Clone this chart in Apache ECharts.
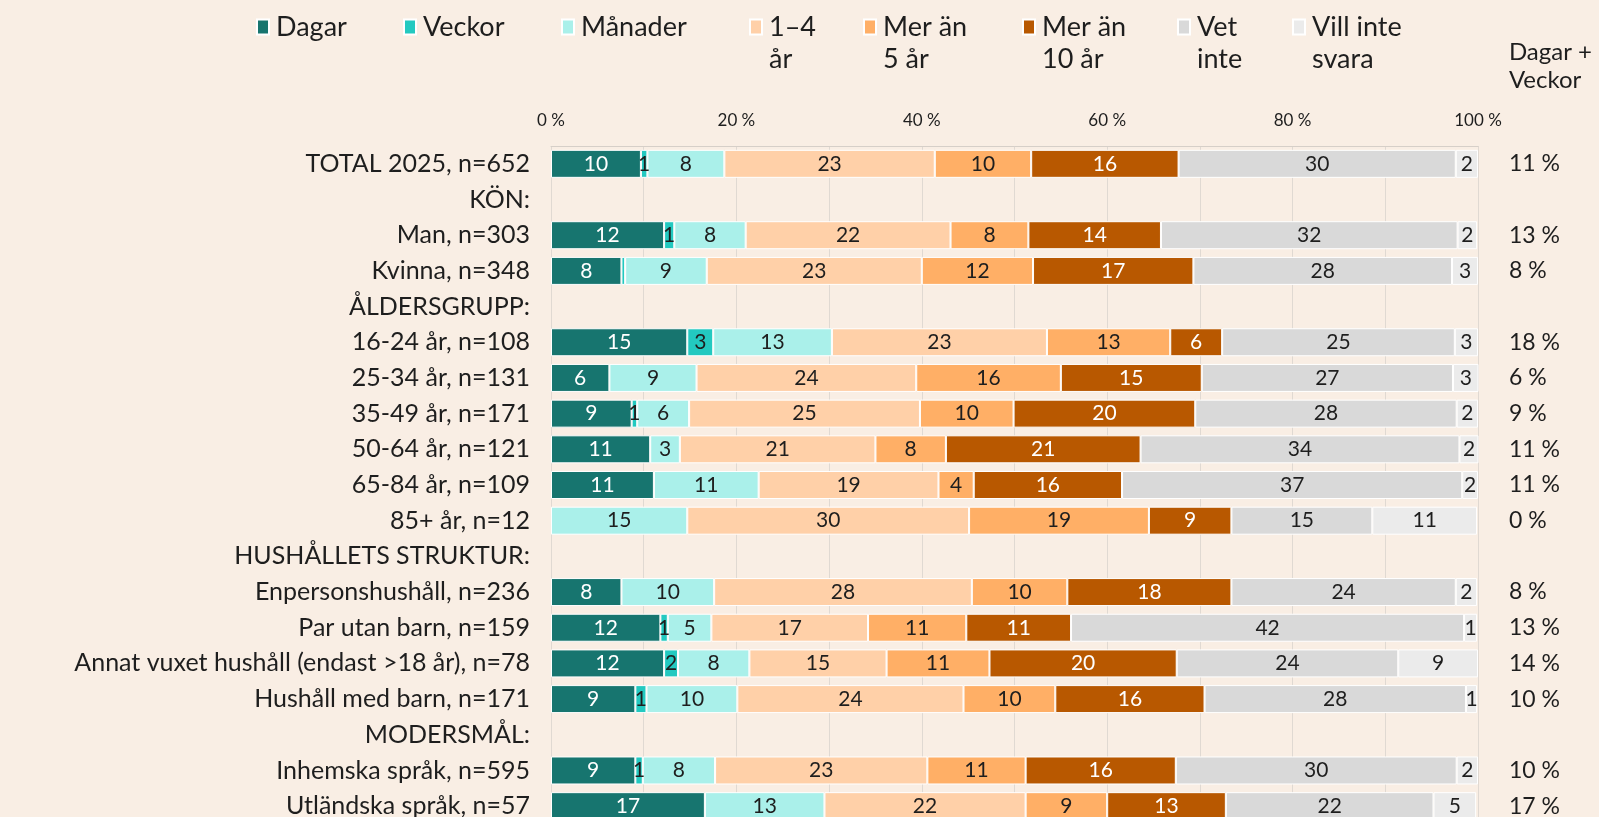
<!DOCTYPE html>
<html>
<head>
<meta charset="utf-8">
<script src="https://cdn.jsdelivr.net/npm/echarts@6/dist/echarts.min.js"></script>
<style>
html,body{margin:0;padding:0;background:#F9EEE4;overflow:hidden;}
#chart{width:1599px;height:840px;}
</style>
</head>
<body>
<div id="chart"></div>
<script>
// ---- DATA ----
const categories = [
  'TOTAL 2025, n=652',
  'KÖN:',
  'Man, n=303',
  'Kvinna, n=348',
  'ÅLDERSGRUPP:',
  '16-24 år, n=108',
  '25-34 år, n=131',
  '35-49 år, n=171',
  '50-64 år, n=121',
  '65-84 år, n=109',
  '85+ år, n=12',
  'HUSHÅLLETS STRUKTUR:',
  'Enpersonshushåll, n=236',
  'Par utan barn, n=159',
  'Annat vuxet hushåll (endast >18 år), n=78',
  'Hushåll med barn, n=171',
  'MODERSMÅL:',
  'Inhemska språk, n=595',
  'Utländska språk, n=57'
];
const seriesNames = ['Dagar', 'Veckor', 'Månader', '1–4\når', 'Mer än\n5 år', 'Mer än\n10 år', 'Vet\ninte', 'Vill inte\nsvara'];
const dagar   = [9.7, null, 12.2, 7.6, null, 14.7, 6.3, 8.7, 10.7, 11.1, null, null, 7.6, 11.8, 12.2, 9.1, null, 9.1, 16.6];
const veckor  = [0.7, null, 1.1, 0.4, null, 2.8, null, 0.6, null, null, null, null, null, 0.8, 1.5, 1.2, null, 0.8, null];
const manader = [8.3, null, 7.7, 8.8, null, 12.8, 9.4, 5.6, 3.2, 11.3, 14.7, null, 10.0, 4.7, 7.7, 9.8, null, 7.8, 12.9];
const ar1_4   = [22.7, null, 22.1, 23.2, null, 23.2, 23.7, 24.9, 21.1, 19.4, 30.4, null, 27.8, 16.9, 14.8, 24.4, null, 22.9, 21.7];
const merAn5  = [10.4, null, 8.4, 12.0, null, 13.3, 15.6, 10.1, 7.6, 3.8, 19.4, null, 10.3, 10.6, 11.1, 9.9, null, 10.6, 8.8];
const merAn10 = [15.9, null, 14.3, 17.3, null, 5.6, 15.2, 19.6, 21.0, 16.0, 8.9, null, 17.7, 11.3, 20.2, 16.1, null, 16.2, 12.8];
const vetInte = [29.9, null, 32.0, 27.9, null, 25.1, 27.1, 28.2, 34.4, 36.7, 15.2, null, 24.2, 42.4, 23.9, 28.2, null, 30.3, 22.4];
const villInte= [2.4, null, 2.1, 2.8, null, 2.5, 2.8, 2.3, 2.1, 1.7, 11.3, null, 2.3, 1.4, 8.6, 1.2, null, 2.3, 4.6];
const dagarVeckor = [11, null, 13, 8, null, 18, 6, 9, 11, 11, 0, null, 8, 13, 14, 10, null, 10, 17];
const xTicks = [0, 20, 40, 60, 80, 100];

// ---- STYLE ----
const FONT = 'Lato';
const TXT = '#1e1e1e';
const colors = ['#17756F', '#23C9C0', '#AAF0EA', '#FFD0A8', '#FFAF66', '#B85800', '#D9D9D9', '#EBEBEB'];
const labelColors = ['#ffffff', TXT, TXT, TXT, TXT, '#ffffff', TXT, TXT];
const seriesData = [dagar, veckor, manader, ar1_4, merAn5, merAn10, vetInte, villInte];
const legendLeft = [256, 403, 561, 749, 863, 1022, 1177, 1292];
const LEG_CY = 27;   // centre of legend icons / first text line
const LEG_LH = 32;

const series = seriesNames.map((name, i) => ({
  name: name,
  type: 'bar',
  stack: 'total',
  barWidth: 28,
  data: seriesData[i],
  itemStyle: { color: colors[i], borderColor: '#ffffff', borderWidth: 1 },
  label: {
    show: true,
    position: 'inside',
    color: labelColors[i],
    fontFamily: FONT,
    fontSize: 21,
    formatter: p => (p.value == null || p.value < 0.5) ? '' : String(Math.round(p.value))
  },
  emphasis: { disabled: true },
  animation: false
}));

const legends = seriesNames.map((name, i) => {
  const twoLine = name.indexOf('\n') >= 0;
  return {
    data: [name],
    left: legendLeft[i],
    top: twoLine ? LEG_CY - 1.5 * LEG_LH : LEG_CY - 0.5 * LEG_LH,
    padding: 0,
    itemWidth: 12,
    itemHeight: 15,
    itemGap: 0,
    icon: 'rect',
    selectedMode: false,
    // blank leading line so that the first real line sits beside the icon
    formatter: n => twoLine ? ' \n' + n : n,
    textStyle: {
      fontFamily: FONT, fontSize: 27, color: TXT, lineHeight: LEG_LH,
      padding: [0, 0, 0, 2]
    }
  };
});

const chart = echarts.init(document.getElementById('chart'), null, { renderer: 'canvas' });
chart.setOption({
  backgroundColor: '#F9EEE4',
  animation: false,
  legend: legends,
  grid: { left: 551, right: 121, top: 146, height: 678, containLabel: false },
  xAxis: {
    type: 'value',
    position: 'top',
    min: 0, max: 100, interval: 10,
    axisLine: { show: true, lineStyle: { color: '#D6CFC8', width: 1 } },
    axisTick: { show: false },
    splitLine: { show: true, lineStyle: { color: '#E0D9D2', width: 1 } },
    axisLabel: {
      fontFamily: FONT, fontSize: 17, color: TXT, margin: 17,
      formatter: v => xTicks.indexOf(v) >= 0 ? v + ' %' : ''
    }
  },
  yAxis: [
    {
      type: 'category',
      data: categories,
      inverse: true,
      axisLine: { show: false },
      axisTick: { show: false },
      splitLine: { show: false },
      axisLabel: { fontFamily: FONT, fontSize: 25, color: TXT, margin: 21 }
    },
    {
      type: 'category',
      data: categories,
      inverse: true,
      position: 'right',
      axisLine: { show: false },
      axisTick: { show: false },
      splitLine: { show: false },
      axisLabel: {
        fontFamily: FONT, fontSize: 23, color: TXT, margin: 31, align: 'left',
        formatter: (v, idx) => dagarVeckor[idx] == null ? '' : dagarVeckor[idx] + ' %'
      }
    }
  ],
  graphic: [{
    type: 'text',
    right: 7,
    top: 38,
    style: {
      text: 'Dagar +\nVeckor',
      align: 'right',
      fontFamily: FONT, fontSize: 24, lineHeight: 28, fill: TXT
    }
  }],
  series: series
});
</script>
</body>
</html>
